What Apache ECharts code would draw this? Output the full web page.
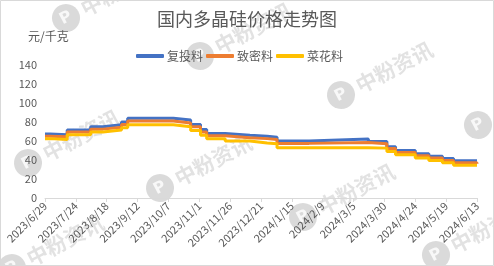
<!DOCTYPE html>
<html><head><meta charset="utf-8">
<script src="https://cdn.jsdelivr.net/npm/echarts@6/dist/echarts.min.js"></script>
<style>html,body{margin:0;padding:0;background:#fff}#c{width:494px;height:266px}</style>
</head><body><div id="c"></div>
<script>
// change-point dates (each value holds until the next date)
const dates = ['2023/6/29','2023/7/3','2023/7/17','2023/8/5','2023/8/15','2023/8/30','2023/9/4','2023/10/11','2023/10/25','2023/11/2','2023/11/7','2023/11/22','2023/12/12','2023/12/26','2024/1/3','2024/1/29','2024/3/17','2024/4/1','2024/4/8','2024/4/24','2024/5/5','2024/5/16','2024/5/25','2024/6/13'];
const fuTouLiao = [67.5,66.5,71.5,75,77,80,84,82,77.5,72,68,66,65,64,60,62,59.5,54,50,46.6,44,41.7,39.3,38.6];
const zhiMiLiao = [65,64.5,69.5,72.5,74.5,77.5,81,79,75,69.5,65.5,63.5,62.5,61.5,57.5,58.5,57,52,48,44.5,42,39.5,37,36];
const caiHuaLiao = [62.5,61.5,66.5,69.5,71.5,74,77,75,71,66,62.5,60,58,57,53,53,52.5,49,45.5,42,39.5,37,34.5,34];
const tickLabels = ['2023/6/29','2023/7/24','2023/8/18','2023/9/12','2023/10/7','2023/11/1','2023/11/26','2023/12/21','2024/1/15','2024/2/9','2024/3/5','2024/3/30','2024/4/24','2024/5/19','2024/6/13'];
const seriesNames = ['复投料','致密料','菜花料'];
const colors = ['#4472C4','#ED7D31','#FFC000'];

function dayOf(s){const [y,m,d]=s.split('/').map(Number);return Math.round((Date.UTC(y,m-1,d)-Date.UTC(2023,5,29))/86400000);}
const lastDay = dayOf(tickLabels[tickLabels.length-1]);
const mk = arr => dates.map((d,i)=>[dayOf(d),arr[i]]);

const wmPos = [[66,18],[200,56],[341,95],[478,125],[28,163],[160,188],[12,268],[303,217],[436,255]];
const wm = [];
wmPos.forEach(([x,y])=>{
  wm.push({type:'group',x:x,y:y,rotation:Math.PI/6.5,z:100,silent:true,children:[
    {type:'circle',shape:{cx:0,cy:0,r:14},style:{fill:'rgba(140,140,140,0.32)'}},
    {type:'text',style:{x:0,y:0,text:'P',fill:'rgba(255,255,255,0.8)',font:'bold 16px "DejaVu Sans"',textAlign:'center',textVerticalAlign:'middle'}},
    {type:'text',style:{x:18,y:0,text:'中粉资讯',fill:'rgba(150,150,150,0.28)',font:'bold 21px "Noto Sans CJK SC"',textVerticalAlign:'middle'}}
  ]});
});

const chart = echarts.init(document.getElementById('c'),null,{renderer:'canvas'});
chart.setOption({
  animation:false,
  backgroundColor:'#fff',
  title:{text:'国内多晶硅价格走势图',left:'center',top:10,padding:0,textStyle:{fontSize:18,fontWeight:'normal',color:'#595959',fontFamily:'Noto Sans CJK SC'}},
  legend:{top:45,left:131,itemWidth:28,itemHeight:4,itemGap:3,icon:'roundRect',data:seriesNames,textStyle:{fontSize:12,color:'#595959',fontFamily:'Noto Sans CJK SC',padding:[0,0,0,-2]}},
  grid:{left:45,right:17,top:65,bottom:68},
  xAxis:{type:'value',min:0,max:lastDay,interval:25,
    axisLine:{show:true,lineStyle:{color:'#d9d9d9'}},
    axisTick:{show:true,length:4,lineStyle:{color:'#d9d9d9'}},
    splitLine:{show:false},
    axisLabel:{rotate:45,margin:6,fontSize:11,color:'#595959',fontFamily:'Noto Sans CJK SC',formatter:v=>tickLabels[Math.round(v/25)]||''}},
  yAxis:{type:'value',min:0,max:140,interval:20,
    axisLine:{show:false},axisTick:{show:false},splitLine:{show:false},
    axisLabel:{margin:8,fontSize:11,color:'#595959',fontFamily:'Noto Sans CJK SC'}},
  graphic:[
    {type:'rect',shape:{x:0.5,y:0.5,width:493,height:265},style:{fill:'none',stroke:'#d9d9d9',lineWidth:1},z:1},
    {type:'text',left:28,top:30,style:{text:'元/千克',fill:'#595959',font:'12px "Noto Sans CJK SC"'}}
  ].concat(wm),
  series:[fuTouLiao,zhiMiLiao,caiHuaLiao].map((arr,i)=>({
    name:seriesNames[i],type:'line',step:'end',showSymbol:false,
    data:mk(arr),color:colors[i],lineStyle:{width:3,color:colors[i]}
  }))
});
</script></body></html>
